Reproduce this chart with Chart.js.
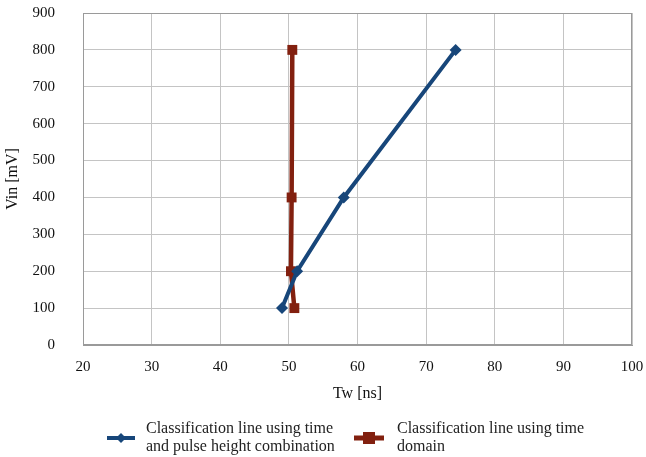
<!DOCTYPE html>
<html><head><meta charset="utf-8">
<script src="https://cdn.jsdelivr.net/npm/chart.js@4/dist/chart.umd.min.js"></script>
<style>html,body{margin:0;padding:0;background:#fff}#wrap{width:646px;height:457px;position:relative}</style>
</head><body><div id="wrap"><canvas id="c" width="646" height="457"></canvas></div>
<script>
const seriesNames = [
  ["Classification line using time", "and pulse height combination"],
  ["Classification line using time", "domain"]
];
const blueTw = [49, 51.2, 58, 74.3];
const blueVin = [100, 200, 400, 800];
const redTw = [50.8, 50.3, 50.4, 50.5];
const redVin = [100, 200, 400, 800];
const xTicks = [20, 30, 40, 50, 60, 70, 80, 90, 100];
const yTicks = [0, 100, 200, 300, 400, 500, 600, 700, 800, 900];

const BLUE = '#17467a', RED = '#82200f';
const FONT = '"Liberation Serif", "Times New Roman", serif';

const legendPlugin = {
  id: 'customLegend',
  afterDraw(chart) {
    const ctx = chart.ctx;
    ctx.save();
    ctx.strokeStyle = BLUE; ctx.lineWidth = 4;
    ctx.beginPath(); ctx.moveTo(107, 438); ctx.lineTo(135, 438); ctx.stroke();
    ctx.fillStyle = BLUE;
    ctx.beginPath(); ctx.moveTo(121, 433); ctx.lineTo(126, 438); ctx.lineTo(121, 443); ctx.lineTo(116, 438); ctx.closePath(); ctx.fill();
    ctx.strokeStyle = RED; ctx.lineWidth = 5;
    ctx.beginPath(); ctx.moveTo(354, 438); ctx.lineTo(384, 438); ctx.stroke();
    ctx.fillStyle = RED; ctx.fillRect(363, 432, 12, 12);
    ctx.fillStyle = '#222'; ctx.font = '16px ' + FONT; ctx.textBaseline = 'middle';
    ctx.fillText(seriesNames[0][0], 146, 429);
    ctx.fillText(seriesNames[0][1], 146, 447);
    ctx.fillText(seriesNames[1][0], 397, 429);
    ctx.fillText(seriesNames[1][1], 397, 447);
    ctx.restore();
  }
};

new Chart(document.getElementById('c'), {
  type: 'scatter',
  data: {
    datasets: [
      { label: seriesNames[0].join(' '), data: blueTw.map((x, i) => ({x, y: blueVin[i]})), showLine: true,
        borderColor: BLUE, backgroundColor: BLUE, borderWidth: 4, pointStyle: 'rectRot', pointRadius: 6, pointBorderWidth: 0, tension: 0 },
      { label: seriesNames[1].join(' '), data: redTw.map((x, i) => ({x, y: redVin[i]})), showLine: true,
        borderColor: RED, backgroundColor: RED, borderWidth: 4.5, pointStyle: 'rect', pointRadius: 7, pointBorderWidth: 0, tension: 0 }
    ]
  },
  options: {
    responsive: false, animation: false,
    layout: { padding: { left: 0, right: 0, top: 0, bottom: 52 } },
    plugins: { legend: { display: false }, tooltip: { enabled: false } },
    scales: {
      x: { type: 'linear', min: 20, max: 100,
        afterBuildTicks: s => { s.ticks = xTicks.map(v => ({value: v})); },
        afterFit: s => { s.height = 60; s.paddingLeft = 0; s.paddingRight = 14; },
        grid: { color: '#c4c4c4', lineWidth: 1, drawTicks: false },
        border: { color: '#9a9a9a' },
        ticks: { color: '#111', font: { family: FONT, size: 15 }, padding: 13 },
        title: { display: true, text: 'Tw [ns]', color: '#111', font: { family: FONT, size: 16 }, padding: { top: 4, bottom: 2 } } },
      y: { type: 'linear', min: 0, max: 900,
        afterBuildTicks: s => { s.ticks = yTicks.map(v => ({value: v})); },
        afterFit: s => { s.width = 83; s.paddingTop = 13; s.paddingBottom = 0; },
        grid: { color: '#c4c4c4', lineWidth: 1, drawTicks: false },
        border: { color: '#9a9a9a' },
        ticks: { color: '#111', font: { family: FONT, size: 15 }, padding: 28 },
        title: { display: true, text: 'Vin [mV]', color: '#111', font: { family: FONT, size: 16 }, padding: { top: 3, bottom: 2 } } }
    }
  },
  plugins: [legendPlugin, {
    id: 'frame',
    afterDraw(chart) {
      const a = chart.chartArea, ctx = chart.ctx;
      ctx.save(); ctx.strokeStyle = '#9a9a9a'; ctx.lineWidth = 1;
      ctx.strokeRect(a.left + 0.5, a.top + 0.5, a.right - a.left - 1, a.bottom - a.top - 1);
      ctx.restore();
    }
  }]
});
</script></body></html>
